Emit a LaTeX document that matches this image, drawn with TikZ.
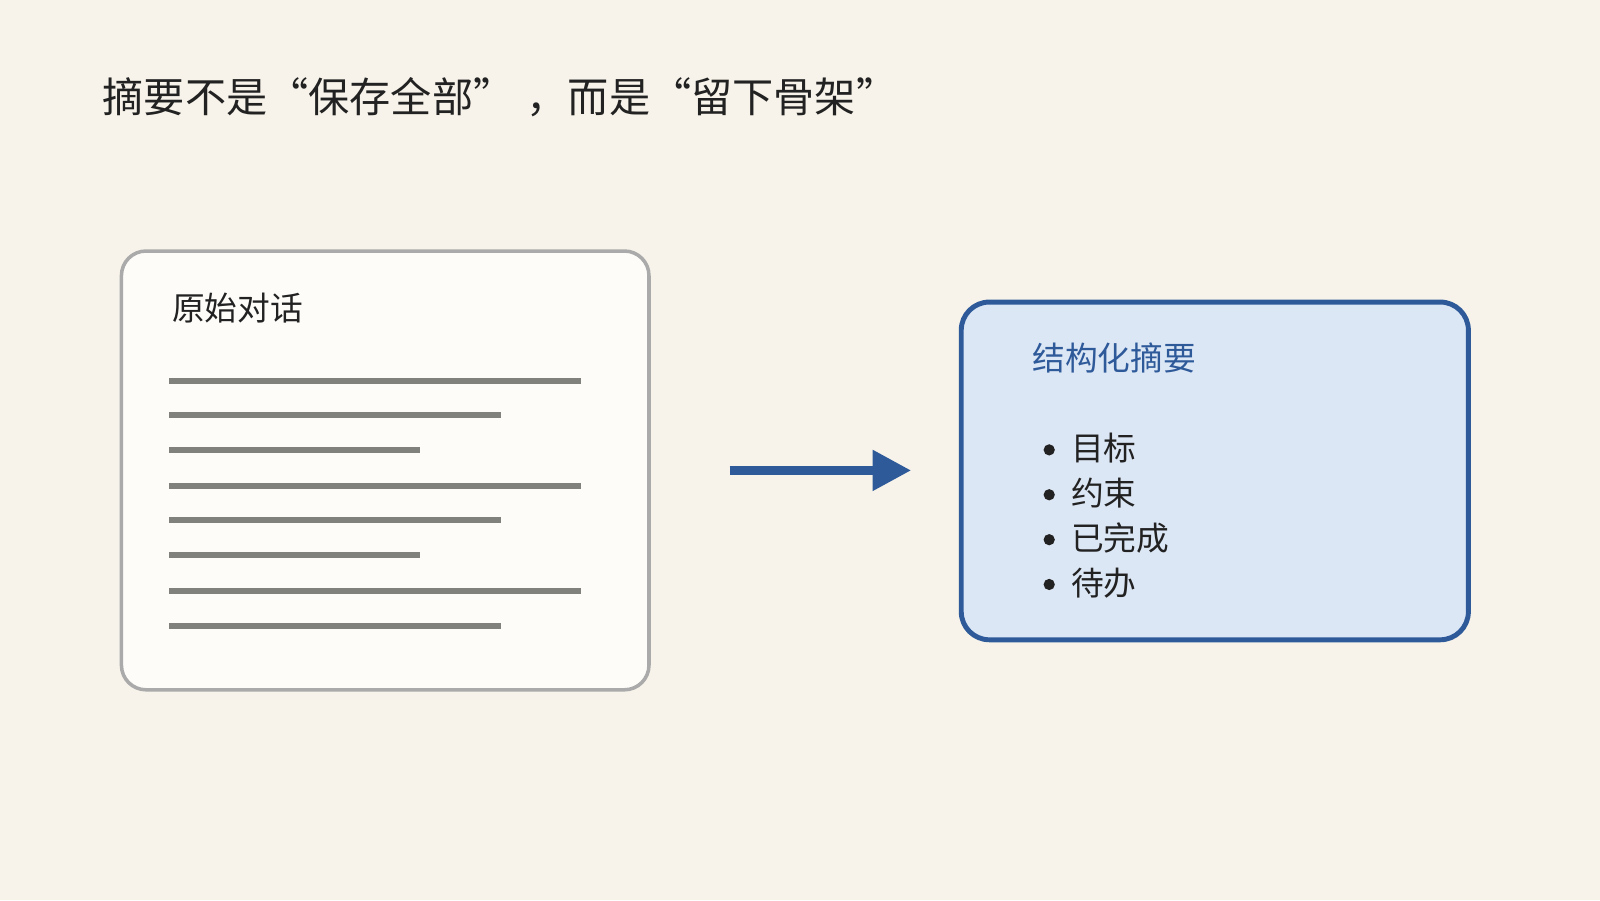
\documentclass[tikz,border=0pt]{standalone}
\usepackage{fontspec}
\setmainfont{Noto Sans CJK SC}
\usetikzlibrary{arrows.meta,positioning}
\definecolor{bgcream}{RGB}{247,243,234}
\definecolor{cardwhite}{RGB}{253,252,249}
\definecolor{cardgray}{RGB}{170,170,170}
\definecolor{linegray}{RGB}{128,128,124}
\definecolor{sumblue}{RGB}{46,90,154}
\definecolor{sumfill}{RGB}{220,231,245}
\definecolor{inkdark}{RGB}{34,34,34}
\tikzset{
  card/.style={draw=cardgray, line width=1pt, fill=cardwhite, rounded corners=7pt},
  sumcard/.style={draw=sumblue, line width=1.4pt, fill=sumfill, rounded corners=8pt},
  textline/.style={linegray, line width=1.7pt},
  item/.style={anchor=west, inner sep=0pt, font=\fontsize{9.3}{11}\selectfont, text=inkdark}
}
\begin{document}
\begin{tikzpicture}[x=0.0102cm, y=-0.0102cm]
\fill[bgcream] (0,0) rectangle (1568,882);
\useasboundingbox (0,0) rectangle (1568,882);
% title
\node[anchor=west, inner sep=0pt, font=\fontsize{11.7}{14}\selectfont, text=inkdark] (title) at (100,95)
  {摘要不是“保存全部”\hspace{0.3em}，而是“留下骨架”};
% original dialogue
\draw[card] (119,246) rectangle (636,676);
\node[anchor=west, inner sep=0pt, font=\fontsize{9.3}{11}\selectfont, text=inkdark] (orig) at (168,302) {原始对话};
\foreach \y/\len in {373/569,407/491,441/412,476/569,510/491,544/412,579/569,613/491}
  \draw[textline] (166,\y) -- (\len,\y);
% arrow
\coordinate (from) at (715,461);
\coordinate (to) at (893,461);
\draw[sumblue, line width=2.6pt, -{Triangle[length=11pt,width=11pt]}] (from) -- (to);
% summary
\draw[sumcard] (942,296) rectangle (1439,627);
\node[anchor=west, inner sep=0pt, font=\fontsize{9.3}{11}\selectfont, text=sumblue] (sum) at (1011,351) {结构化摘要};
\foreach \y/\txt in {439/目标,483/约束,527/已完成,571/待办}
  \node[item] at (1022,\y) {\raisebox{0.15em}{\tikz\fill[inkdark] (0,0) circle (1.6pt);}\hspace{0.5em}\txt};
\end{tikzpicture}
\end{document}
